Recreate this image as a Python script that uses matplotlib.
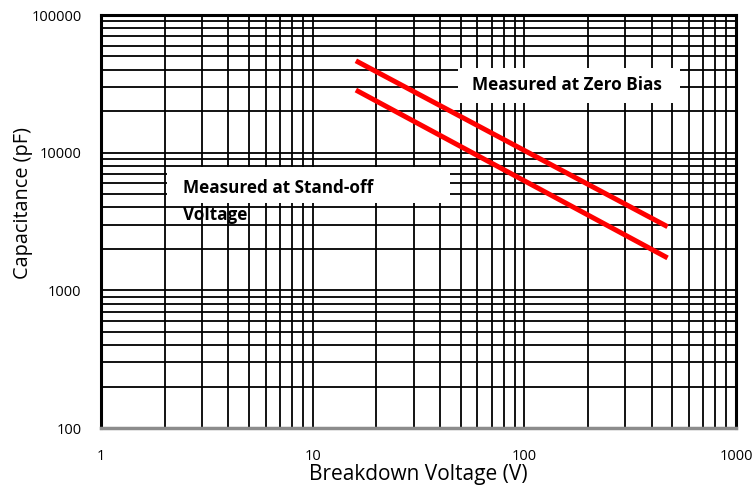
#!/usr/bin/env python3
"""Capacitance vs breakdown voltage, log-log chart"""

import matplotlib
matplotlib.use("Agg")
import matplotlib.pyplot as plt
from matplotlib.patches import Rectangle
from matplotlib.ticker import LogLocator, FixedLocator, FixedFormatter

# data
voltage = [16, 475]
cap_zero_bias = [46500, 2900]
cap_standoff = [28500, 1720]

x_ticks = [1, 10, 100, 1000]
x_tick_labels = ["1", "10", "100", "1000"]
y_ticks = [100, 1000, 10000, 100000]
y_tick_labels = ["100", "1000", "10000", "100000"]

plt.rcParams["font.family"] = ["Open Sans", "DejaVu Sans"]

fig = plt.figure(figsize=(7.52, 4.87), dpi=100)
ax = fig.add_axes([101 / 752, 59 / 487, 635 / 752, 413 / 487])

ax.set_xscale("log")
ax.set_yscale("log")
ax.set_xlim(1, 1000)
ax.set_ylim(100, 100000)

ax.xaxis.set_major_locator(FixedLocator(x_ticks))
ax.xaxis.set_major_formatter(FixedFormatter(x_tick_labels))
ax.yaxis.set_major_locator(FixedLocator(y_ticks))
ax.yaxis.set_major_formatter(FixedFormatter(y_tick_labels))
ax.xaxis.set_minor_locator(LogLocator(base=10, subs=range(2, 10)))
ax.yaxis.set_minor_locator(LogLocator(base=10, subs=range(2, 10)))
ax.xaxis.set_minor_formatter(FixedFormatter([]))
ax.yaxis.set_minor_formatter(FixedFormatter([]))

ax.grid(True, which="both", color="black", linewidth=1.3, zorder=0)
ax.set_axisbelow(True)
ax.tick_params(which="both", length=0)
ax.tick_params(axis="x", pad=15, labelsize=10.5)
ax.tick_params(axis="y", pad=14, labelsize=10.5)

for side in ["top", "left", "right"]:
    ax.spines[side].set_color("black")
    ax.spines[side].set_linewidth(2.2)
ax.spines["bottom"].set_color("#8c8c8c")
ax.spines["bottom"].set_linewidth(2.5)

ax.plot(voltage, cap_zero_bias, color="#ff0000", linewidth=3.6, zorder=4,
        solid_capstyle="butt")
ax.plot(voltage, cap_standoff, color="#ff0000", linewidth=3.6, zorder=4,
        solid_capstyle="butt")

# label boxes
ax.add_patch(Rectangle((0.562, 0.787), 0.350, 0.085, transform=ax.transAxes,
                       facecolor="white", edgecolor="none", zorder=3))
ax.text(0.584, 0.831, "Measured at Zero Bias", transform=ax.transAxes,
        fontsize=12.3, fontweight="bold", va="center", ha="left", zorder=5)

ax.add_patch(Rectangle((0.104, 0.545), 0.446, 0.087, transform=ax.transAxes,
                       facecolor="white", edgecolor="none", zorder=3))
ax.text(0.129, 0.581, "Measured at Stand-off", transform=ax.transAxes,
        fontsize=12.3, fontweight="bold", va="center", ha="left", zorder=5)
ax.text(0.129, 0.516, "Voltage", transform=ax.transAxes,
        fontsize=12.3, fontweight="bold", va="center", ha="left", zorder=5)

ax.set_xlabel("Breakdown Voltage (V)", fontsize=15)
ax.set_ylabel("Capacitance (pF)", fontsize=14.3)
ax.xaxis.set_label_coords(0.5, -0.088)
ax.yaxis.set_label_coords(-0.107, 0.545)

fig.savefig("out.png", dpi=100)
